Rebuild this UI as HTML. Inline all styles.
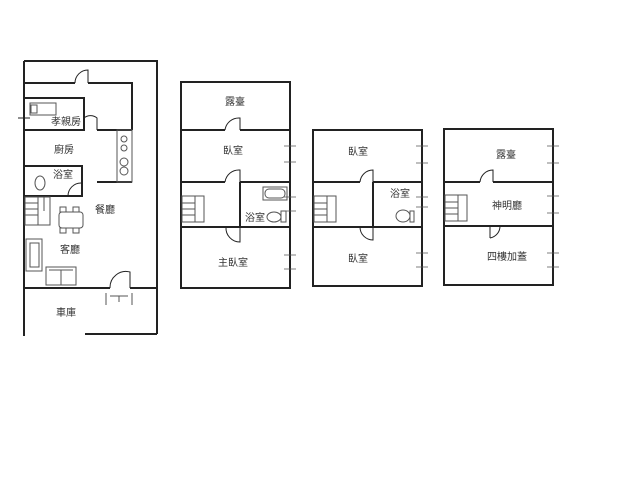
<!DOCTYPE html>
<html><head><meta charset="utf-8"><style>
html,body{margin:0;padding:0;background:#fff;width:640px;height:480px;overflow:hidden}
text{font-family:"Liberation Sans","Noto Sans CJK TC",sans-serif;font-size:10px;fill:#333;text-anchor:middle}
</style></head><body>
<svg width="640" height="480" viewBox="0 0 640 480" xmlns="http://www.w3.org/2000/svg">
<g stroke="#222" stroke-width="2" fill="none">
<!-- Plan 1 -->
<path d="M24 61 H157 V334 M24 61 V336 M85 334 H157"/>
<path d="M24 83 H75 M88 83 H132 V130 M97 130 H132"/>
<path d="M24 98 H84 V130 H24"/>
<path d="M97 182 H132"/>
<path d="M24 166 H82 V196 H24"/>
<path d="M24 288 H110 M130 288 H157"/>
<path d="M88 83 V70 A13 13 0 0 0 75 83" stroke-width="1"/>
<path d="M84 118 A10 10 0 0 1 97 118 V130" stroke-width="1"/>
<path d="M68 196 A13 13 0 0 1 81 183" stroke-width="1"/>
<path d="M130 288 V272 A16 16 0 0 0 110 288" stroke-width="1"/>
<path d="M18 118 H30 M24 112 V124" stroke-width="1"/>
<!-- Plan 2 -->
<rect x="181" y="82" width="109" height="206"/>
<path d="M181 130 H225 M240 130 H290 M181 182 H225 M240 182 H290 M181 227 H290 M240 182 V227"/>
<path d="M240 130 V118 A14 14 0 0 0 225 130" stroke-width="1"/>
<path d="M240 182 V170 A14 14 0 0 0 225 182" stroke-width="1"/>
<path d="M240 227 V242 A14 14 0 0 1 226 227" stroke-width="1"/>
<path d="M290 145 V163 M290 255 V270"/>
<!-- Plan 3 -->
<rect x="313" y="130" width="109" height="156"/>
<path d="M313 182 H360 M373 182 H422 M313 227 H422 M373 182 V227 M422 248 V268 M422 145 V163"/>
<path d="M373 182 V170 A13 13 0 0 0 360 182" stroke-width="1"/>
<path d="M373 227 V240 A13 13 0 0 1 360 227" stroke-width="1"/>
<path d="M422 196 V208"/>
<!-- Plan 4 -->
<rect x="444" y="129" width="109" height="156"/>
<path d="M444 182 H480 M493 182 H553 M444 226 H553 M553 145 V163 M553 195 V213 M553 250 V268"/>
<path d="M493 182 V170 A13 13 0 0 0 480 182" stroke-width="1"/>
<path d="M490 226 V238 M500 226 A12 12 0 0 1 490 238" stroke-width="1"/>
</g>
<g stroke="#555" stroke-width="1" fill="none">
<!-- fixtures plan1 -->
<rect x="30" y="103" width="26" height="12"/><rect x="31" y="105" width="6" height="8"/>
<rect x="117" y="130" width="15" height="52"/><circle cx="124" cy="139" r="3"/><circle cx="124" cy="148" r="3"/><circle cx="124" cy="162" r="4"/><circle cx="124" cy="171" r="4"/>
<ellipse cx="40" cy="183" rx="5" ry="7"/>
<rect x="25" y="197" width="25" height="28"/><path d="M25 203 H38 M25 209 H38 M25 215 H38 M38 197 V225 M44 197 V211"/>
<rect x="59" y="212" width="24" height="16" rx="3"/><rect x="60" y="207" width="6" height="5"/><rect x="73" y="207" width="6" height="5"/><rect x="60" y="228" width="6" height="5"/><rect x="73" y="228" width="6" height="5"/>
<rect x="26" y="239" width="16" height="32"/><rect x="30" y="243" width="9" height="24"/>
<rect x="46" y="267" width="30" height="18"/><path d="M61 270 V285 M49 270 H73"/>
<path d="M106 293 V305 M132 293 V305 M110 296 H128 M119 296 V302"/>
<!-- plan2 -->
<rect x="263" y="187" width="24" height="13"/><rect x="265" y="189" width="20" height="9" rx="4"/>
<ellipse cx="274" cy="217" rx="7" ry="5"/><rect x="281" y="211" width="5" height="11"/>
<rect x="182" y="196" width="22" height="26"/><path d="M182 203 H195 M182 209 H195 M182 215 H195 M195 196 V222"/>
<path d="M284 146 H296 M284 162 H296 M284 255 H296 M284 269 H296 M284 197 H296 M284 211 H296" stroke-width="0.8"/>
<!-- plan3 -->
<rect x="314" y="196" width="22" height="26"/><path d="M314 203 H327 M314 209 H327 M314 215 H327 M327 196 V222"/>
<ellipse cx="403" cy="216" rx="7" ry="6"/><rect x="410" y="211" width="4" height="11"/>
<path d="M416 146 H428 M416 163 H428 M416 197 H428 M416 207 H428 M416 253 H428 M416 267 H428" stroke-width="0.8"/>
<!-- plan4 -->
<rect x="445" y="195" width="22" height="26"/><path d="M445 202 H458 M445 208 H458 M445 214 H458 M458 195 V221"/>
<path d="M547 146 H559 M547 163 H559 M547 196 H559 M547 213 H559 M547 253 H559 M547 267 H559" stroke-width="0.8"/>
</g>
<text x="66" y="125">孝親房</text>
<text x="64" y="153">廚房</text>
<text x="63" y="178">浴室</text>
<text x="105" y="213">餐廳</text>
<text x="70" y="253">客廳</text>
<text x="66" y="316">車庫</text>
<text x="235" y="105">露臺</text>
<text x="233" y="154">臥室</text>
<text x="255" y="221">浴室</text>
<text x="233" y="266">主臥室</text>
<text x="358" y="155">臥室</text>
<text x="400" y="197">浴室</text>
<text x="358" y="262">臥室</text>
<text x="506" y="158">露臺</text>
<text x="507" y="209">神明廳</text>
<text x="507" y="260">四樓加蓋</text>
</svg>
</body></html>
